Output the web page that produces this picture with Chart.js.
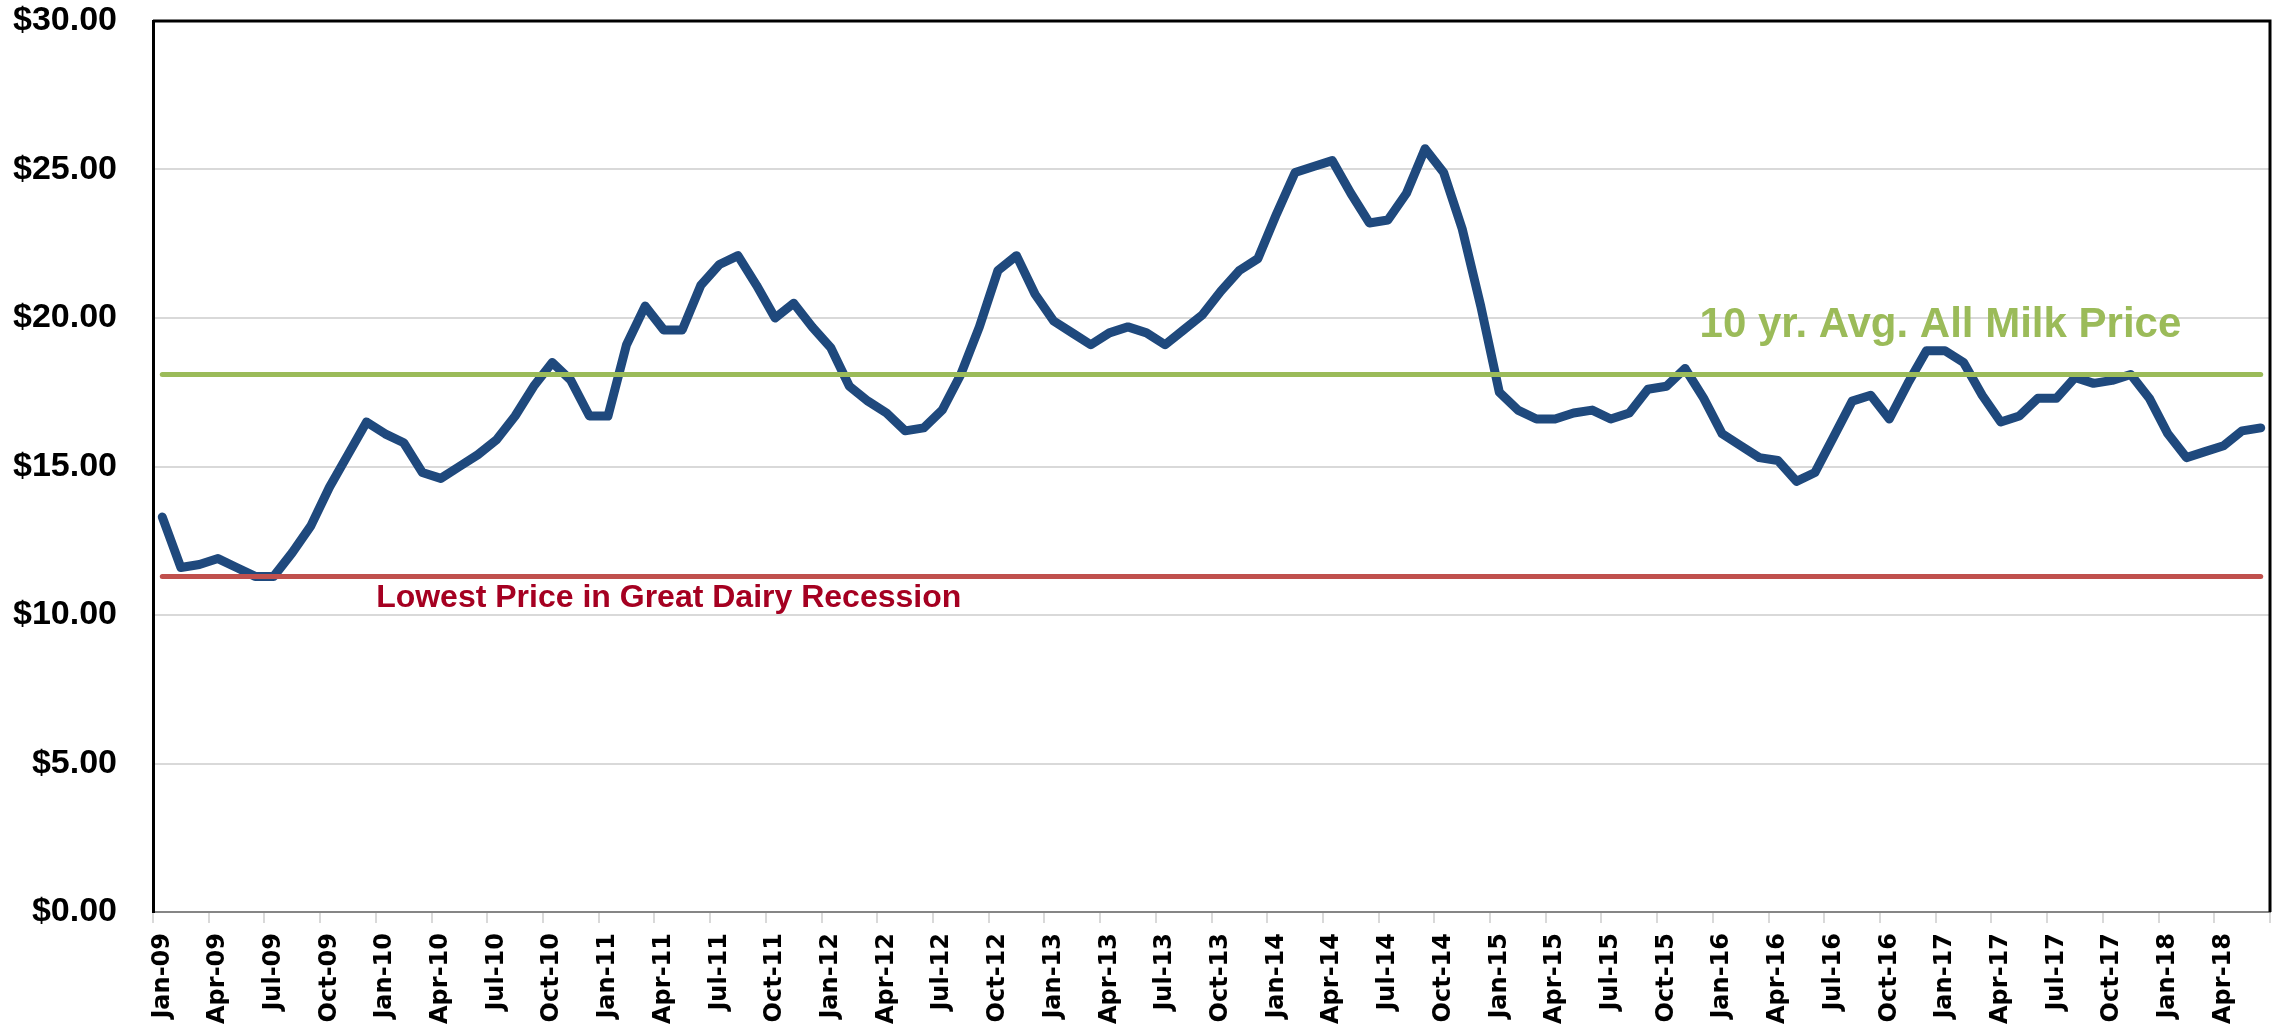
<!DOCTYPE html>
<html lang="en">
<head>
<meta charset="UTF-8" />
<title>All Milk Price</title>
<style>
  html, body { margin: 0; padding: 0; background: #fff; }
  #wrap { width: 2279px; height: 1024px; }
</style>
</head>
<body>
<div id="wrap"><canvas id="myChart"></canvas></div>
<script src="https://cdn.jsdelivr.net/npm/chart.js@4.4.1/dist/chart.umd.min.js"></script>
<script>
const monthNames = ["Jan", "Feb", "Mar", "Apr", "May", "Jun", "Jul", "Aug", "Sep", "Oct", "Nov", "Dec"];
const years = ["09", "10", "11", "12", "13", "14", "15", "16", "17", "18"];

// monthly all milk price, Jan-09 .. Jun-18
const prices = [
  13.3, 11.6, 11.7, 11.9, 11.6, 11.3, 11.3, 12.1, 13.0, 14.3, 15.4, 16.5,
  16.1, 15.8, 14.8, 14.6, 15.0, 15.4, 15.9, 16.7, 17.7, 18.5, 17.9, 16.7,
  16.7, 19.1, 20.4, 19.6, 19.6, 21.1, 21.8, 22.1, 21.1, 20.0, 20.5, 19.7,
  19.0, 17.7, 17.2, 16.8, 16.2, 16.3, 16.9, 18.1, 19.7, 21.6, 22.1, 20.8,
  19.9, 19.5, 19.1, 19.5, 19.7, 19.5, 19.1, 19.6, 20.1, 20.9, 21.6, 22.0,
  23.5, 24.9, 25.1, 25.3, 24.2, 23.2, 23.3, 24.2, 25.7, 24.9, 23.0, 20.4,
  17.5, 16.9, 16.6, 16.6, 16.8, 16.9, 16.6, 16.8, 17.6, 17.7, 18.3, 17.3,
  16.1, 15.7, 15.3, 15.2, 14.5, 14.8, 16.0, 17.2, 17.4, 16.6, 17.8, 18.9,
  18.9, 18.5, 17.4, 16.5, 16.7, 17.3, 17.3, 18.0, 17.8, 17.9, 18.1, 17.3,
  16.1, 15.3, 15.5, 15.7, 16.2, 16.3
];

const avgPrice = 18.1;
const lowestPrice = 11.3;
const avgLabel = "10 yr. Avg. All Milk Price";
const lowLabel = "Lowest Price in Great Dairy Recession";

const categories = [];
for (let i = 0; i < prices.length; i++) {
  categories.push(monthNames[i % 12] + "-" + years[Math.floor(i / 12)]);
}

// top/right frame + the two line captions
const extras = {
  id: "extras",
  afterDatasetsDraw(chart) {
    const { ctx, chartArea: a, scales: { x, y } } = chart;
    ctx.save();
    ctx.strokeStyle = "#000";
    ctx.lineWidth = 3;
    ctx.beginPath();
    ctx.moveTo(a.left, a.top);
    ctx.lineTo(a.right, a.top);
    ctx.lineTo(a.right, a.bottom);
    ctx.stroke();

    ctx.textAlign = "left";
    ctx.textBaseline = "middle";
    ctx.font = "bold 42px 'Liberation Sans', Arial, sans-serif";
    ctx.fillStyle = "#9BBB59";
    ctx.fillText(avgLabel, x.getPixelForValue(83) - 4, y.getPixelForValue(avgPrice) - 49);

    ctx.font = "bold 32px 'Liberation Sans', Arial, sans-serif";
    ctx.fillStyle = "#A50021";
    ctx.fillText(lowLabel, x.getPixelForValue(12) - 9, y.getPixelForValue(lowestPrice) + 22);
    ctx.restore();
  }
};

const noPad = (scale) => {
  scale.paddingTop = 0;
  scale.paddingBottom = 0;
  scale.paddingLeft = 0;
  scale.paddingRight = 0;
};

const ctx = document.getElementById("myChart").getContext("2d");

const myChart = new Chart(ctx, {
  type: "line",
  data: {
    labels: categories,
    datasets: [
      {
        label: "10 yr avg",
        data: categories.map(() => avgPrice),
        borderColor: "#9BBB59",
        borderWidth: 5,
        borderCapStyle: "round",
        pointRadius: 0,
      },
      {
        label: "Lowest",
        data: categories.map(() => lowestPrice),
        borderColor: "#C0504D",
        borderWidth: 5,
        borderCapStyle: "round",
        pointRadius: 0,
      },
      {
        label: "All Milk Price",
        data: prices,
        borderColor: "#1F497D",
        borderWidth: 9,
        borderJoinStyle: "round",
        borderCapStyle: "round",
        pointRadius: 0,
        tension: 0,
      },
    ],
  },
  options: {
    responsive: true,
    maintainAspectRatio: false,
    animation: false,
    layout: { padding: { top: 21, right: 9, left: 0, bottom: 0 } },
    plugins: {
      legend: { display: false },
      tooltip: { enabled: false },
    },
    scales: {
      x: {
        offset: true,
        afterFit: (scale) => { scale.height = 112; noPad(scale); },
        grid: {
          offset: true,
          drawOnChartArea: false,
          drawTicks: true,
          tickLength: 11,
          lineWidth: 2,
          color: (c) => (c.index === undefined || c.index % 3 === 0 ? "#D9D9D9" : "rgba(0,0,0,0)"),
        },
        border: { color: "#868686", width: 2 },
        ticks: {
          autoSkip: false,
          minRotation: 90,
          maxRotation: 90,
          padding: 10,
          color: "#000",
          font: { family: "'DejaVu Sans', Verdana, sans-serif", weight: "bold", size: 24 },
          callback: (v, i) => (i % 3 === 0 ? categories[i] : ""),
        },
      },
      y: {
        min: 0,
        max: 30,
        afterFit: (scale) => { scale.width = 153; noPad(scale); },
        grid: {
          drawTicks: false,
          lineWidth: 2,
          color: (c) => (c.tick && (c.tick.value === 0 || c.tick.value === 30) ? "rgba(0,0,0,0)" : "#D9D9D9"),
        },
        border: { color: "#000", width: 3 },
        ticks: {
          stepSize: 5,
          padding: 36,
          color: "#000",
          font: { family: "'Liberation Sans', Arial, sans-serif", weight: "bold", size: 34 },
          callback: (v) => "$" + v.toFixed(2),
        },
      },
    },
  },
  plugins: [extras],
});
</script>
</body>
</html>
